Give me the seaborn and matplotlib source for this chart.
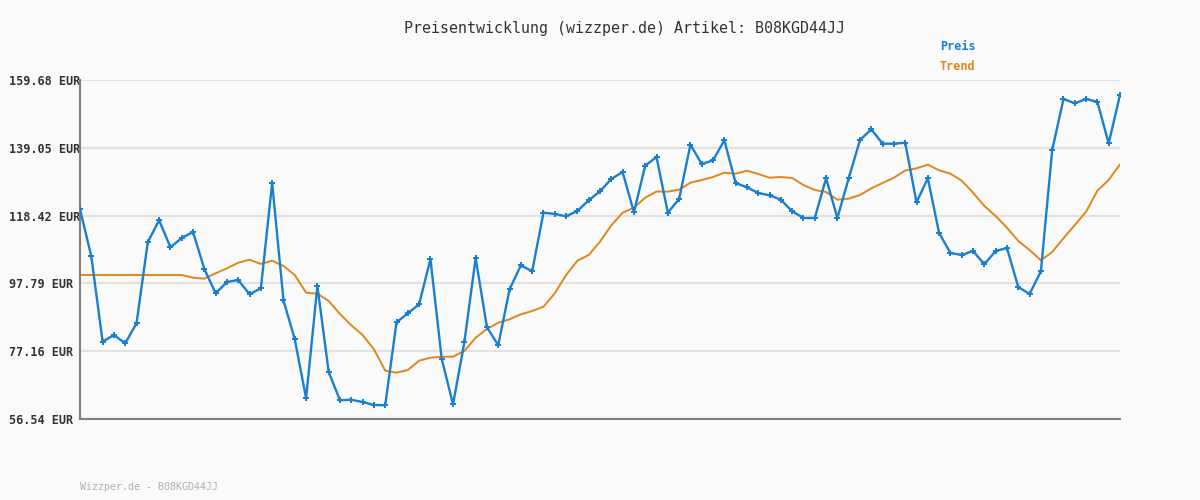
import numpy as np
import pandas as pd
import matplotlib
matplotlib.use("Agg")
import matplotlib.pyplot as plt
import seaborn as sns

title = "Preisentwicklung (wizzper.de) Artikel: B08KGD44JJ"
footer = "Wizzper.de - B08KGD44JJ"
series_names = ["Preis", "Trend"]
y_ticks = [56.54, 77.16, 97.79, 118.42, 139.05, 159.68]
y_tick_labels = ["56.54 EUR", "77.16 EUR", "97.79 EUR", "118.42 EUR", "139.05 EUR", "159.68 EUR"]

preis = [120.34, 106.04, 80.06, 82.10, 79.57, 85.66, 110.39, 116.99, 108.78, 111.61,
         113.43, 102.18, 94.78, 98.22, 98.83, 94.48, 96.31, 128.34, 92.65, 80.79,
         62.84, 97.01, 70.84, 62.23, 62.41, 61.71, 60.80, 60.71, 85.96, 88.70,
         91.44, 105.22, 74.80, 61.01, 79.88, 105.52, 84.44, 78.96, 96.00, 103.30,
         101.48, 119.31, 118.91, 118.21, 119.82, 123.08, 125.82, 129.56, 131.69, 119.43,
         133.61, 136.25, 119.31, 123.48, 140.00, 134.12, 135.25, 141.33, 128.34, 127.03,
         125.30, 124.60, 123.26, 119.73, 117.69, 117.69, 129.77, 117.69, 129.77, 141.43,
         144.68, 140.30, 140.30, 140.60, 122.47, 129.77, 113.13, 107.05, 106.44, 107.65,
         103.61, 107.65, 108.57, 96.70, 94.57, 101.48, 138.29, 153.90, 152.59, 153.90,
         152.99, 140.42, 155.12]

trend = [100.35, 100.35, 100.35, 100.35, 100.35, 100.35, 100.35, 100.35, 100.35, 100.35,
         99.53, 99.23, 100.87, 102.39, 104.09, 105.01, 103.70, 104.70, 103.09, 100.35,
         94.97, 94.66, 92.44, 88.49, 85.05, 82.10, 77.75, 71.24, 70.63, 71.45,
         74.28, 75.19, 75.49, 75.49, 77.23, 81.28, 83.92, 85.84, 86.87, 88.39,
         89.40, 90.71, 94.78, 100.35, 104.70, 106.44, 110.48, 115.47, 119.31, 120.83,
         123.87, 125.76, 125.70, 126.30, 128.43, 129.26, 130.17, 131.48, 131.17, 132.09,
         131.08, 129.96, 130.17, 129.86, 127.73, 126.21, 125.60, 123.26, 123.57, 124.69,
         126.73, 128.34, 129.96, 132.15, 132.82, 133.91, 132.21, 131.17, 129.04, 125.39,
         121.35, 118.30, 114.74, 110.70, 107.96, 104.82, 107.35, 111.52, 115.56, 119.61,
         126.00, 129.26, 134.03]

df = pd.DataFrame({"idx": np.arange(len(preis)), "Preis": preis, "Trend": trend})

sns.set_theme(style="white")
plt.rcParams["font.family"] = ["DejaVu Sans Mono", "DejaVu Sans"]

bg = "#fafafa"
blue = "#1a7fcf"
orange = "#e0861a"

fig = plt.figure(figsize=(12, 5), dpi=100, facecolor=bg)
ax = fig.add_axes([80 / 1200, 81 / 500, 1040 / 1200, 339 / 500])
ax.set_facecolor(bg)

for yv in y_ticks:
    ax.axhline(yv, color="#e2e2e2", lw=1.6, zorder=0)

sns.lineplot(data=df, x="idx", y="Trend", ax=ax, color=orange, lw=1.4, zorder=2)
sns.lineplot(data=df, x="idx", y="Preis", ax=ax, color=blue, lw=1.7, zorder=3,
             marker="P", markersize=4, markeredgewidth=0, markerfacecolor=blue)

ax.set_xlim(0, len(preis) - 1)
ax.set_ylim(y_ticks[0], y_ticks[-1])
ax.set_yticks(y_ticks)
ax.set_yticklabels(y_tick_labels, fontsize=8.5, fontweight="bold", color="#333333")
for lbl in ax.get_yticklabels():
    lbl.set_horizontalalignment("left")
ax.set_xticks([])
ax.set_xlabel("")
ax.set_ylabel("")
ax.tick_params(axis="y", length=0, pad=71 * 72 / 100)

for s in ["top", "right"]:
    ax.spines[s].set_visible(False)
for s in ["left", "bottom"]:
    ax.spines[s].set_color("#808080")
    ax.spines[s].set_linewidth(1.5)

fig.text(624 / 1200, 1 - 28 / 500, title, ha="center", va="center",
         fontsize=10.8, color="#333333")
fig.text(940 / 1200, 1 - 47 / 500, series_names[0], ha="left", va="center",
         fontsize=8.5, fontweight="bold", color=blue)
fig.text(940 / 1200, 1 - 67 / 500, series_names[1], ha="left", va="center",
         fontsize=8.5, fontweight="bold", color=orange)
fig.text(80 / 1200, 1 - 487 / 500, footer, ha="left", va="center",
         fontsize=7.2, color="#b0b0b0")

fig.savefig("out.png", dpi=100, facecolor=bg)
